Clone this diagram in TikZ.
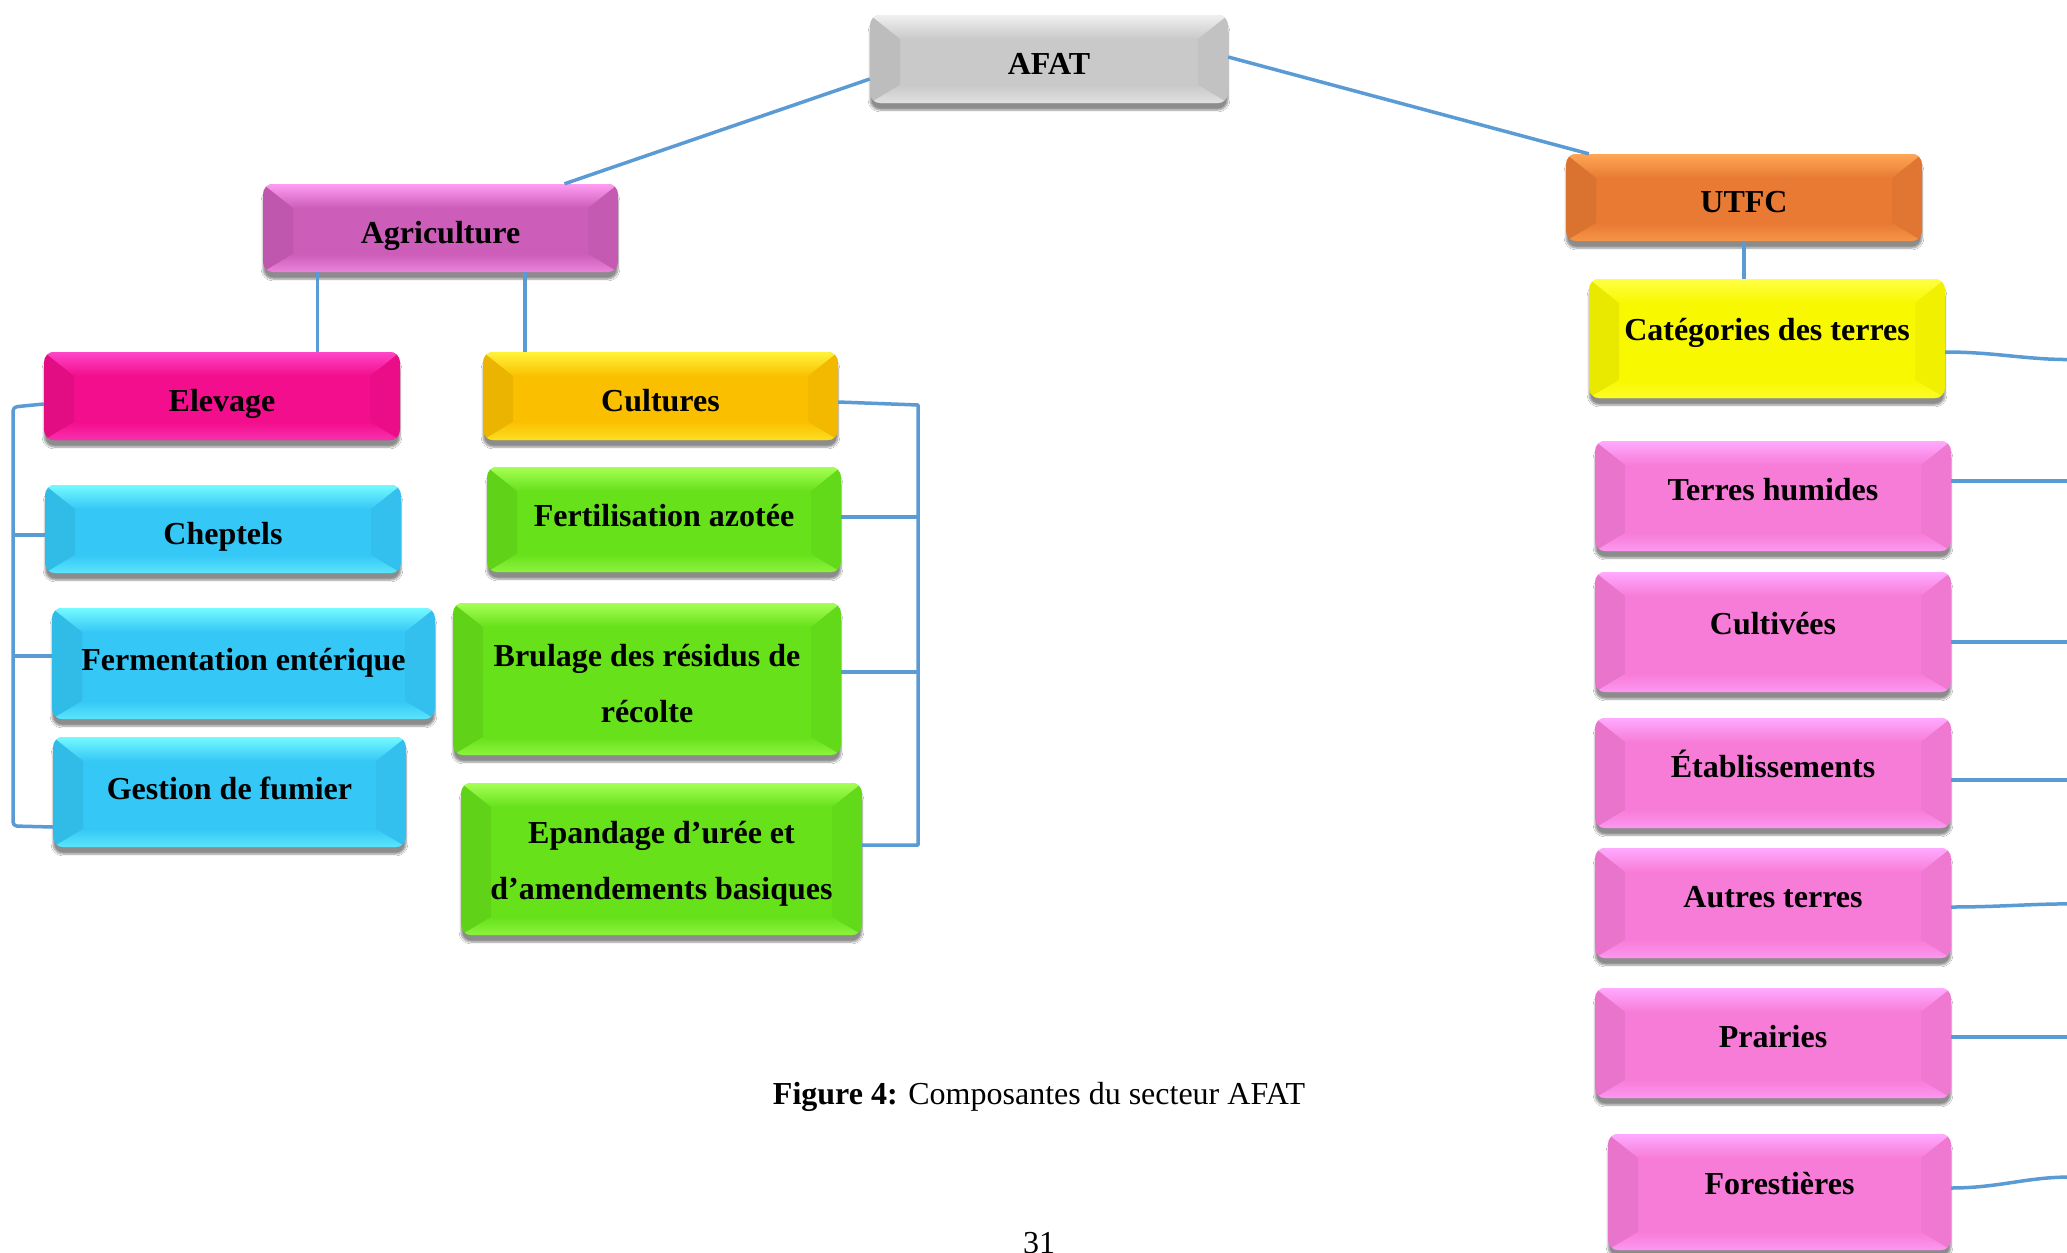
\documentclass[tikz,border=0pt]{standalone}
\usepackage{fontspec}
\setmainfont{Liberation Serif}
\usetikzlibrary{calc,shadows.blur}
\definecolor{cGray}{HTML}{C9C9C9}\definecolor{cGrayT}{HTML}{F0F0F0}
\definecolor{cOrch}{HTML}{CC5DB9}\definecolor{cOrchT}{HTML}{FF9CF2}
\definecolor{cMag}{HTML}{F20E8C}\definecolor{cMagT}{HTML}{FF45C8}
\definecolor{cGold}{HTML}{FAC000}\definecolor{cGoldT}{HTML}{FFF33A}
\definecolor{cCyan}{HTML}{35C7F6}\definecolor{cCyanT}{HTML}{74FAFF}
\definecolor{cGreen}{HTML}{66E11A}\definecolor{cGreenT}{HTML}{A6FF55}
\definecolor{cOrange}{HTML}{E87A33}\definecolor{cOrangeT}{HTML}{FFA655}
\definecolor{cYel}{HTML}{F8F800}\definecolor{cYelT}{HTML}{FFFF45}
\definecolor{cPink}{HTML}{F77CD8}\definecolor{cPinkT}{HTML}{FFAAFF}
\definecolor{cLine}{HTML}{5B9BD5}
\tikzset{
  bx/.style 2 args={
    rounded corners=10pt, fill=#1, draw=none, inner sep=0pt, align=center,
    font=\fontsize{32}{56}\selectfont\bfseries,
    blur shadow={shadow xshift=0pt, shadow yshift=-7pt, shadow blur steps=6, shadow opacity=45},
    path picture={
      \begin{scope}[sharp corners]
      \coordinate (NW) at (path picture bounding box.north west);
      \coordinate (NE) at (path picture bounding box.north east);
      \coordinate (SW) at (path picture bounding box.south west);
      \coordinate (SE) at (path picture bounding box.south east);
      \shade[top color=#2, bottom color=#1] (NW) -- (NE) -- ([xshift=-30pt,yshift=-24pt]NE) -- ([xshift=30pt,yshift=-24pt]NW) -- cycle;
      \fill[black, opacity=.06] (NW) -- ([xshift=30pt,yshift=-24pt]NW) -- ([xshift=30pt,yshift=18pt]SW) -- (SW) -- cycle;
      \fill[black, opacity=.03] (NE) -- ([xshift=-30pt,yshift=-24pt]NE) -- ([xshift=-30pt,yshift=18pt]SE) -- (SE) -- cycle;
      \shade[top color=#1, bottom color=#2!60!#1] ([xshift=30pt,yshift=18pt]SW) -- ([xshift=-30pt,yshift=18pt]SE) -- (SE) -- (SW) -- cycle;
      \end{scope}
    }
  },
  tn/.style={text height=30pt, text depth=0pt},
  tm/.style={text height=22pt, text depth=8pt},
  tp/.style={text height=22pt, text depth=14pt},
  tu/.style={text height=22pt, text depth=18pt},
  conn/.style={draw=cLine, line width=3.5pt, line join=round},
}
\begin{document}
\begin{tikzpicture}[x=1pt,y=-1pt]
\useasboundingbox[fill=white] (0,0) rectangle (2067,1253);

% ---- nodes ----
\node[bx={cGray}{cGrayT}, tn, minimum width=358pt, minimum height=88pt] (afat) at (1049,59) {AFAT};
\node[bx={cOrch}{cOrchT}, tn, minimum width=355pt, minimum height=88pt] (agri) at (440.5,228) {Agriculture};
\node[bx={cMag}{cMagT}, tn, minimum width=356pt, minimum height=88pt] (elev) at (222,396) {Elevage};
\node[bx={cGold}{cGoldT}, tn, minimum width=355pt, minimum height=88pt] (cult) at (660.5,396) {Cultures};
\node[bx={cCyan}{cCyanT}, tn, minimum width=356pt, minimum height=88pt] (chep) at (223,529) {Cheptels};
\node[bx={cCyan}{cCyanT}, tm, minimum width=383pt, minimum height=111pt] (ferm) at (243.5,663.5) {Fermentation entérique};
\node[bx={cCyan}{cCyanT}, tm, minimum width=353pt, minimum height=110pt] (gest) at (229.5,792) {Gestion de fumier};
\node[bx={cGreen}{cGreenT}, tm, minimum width=354pt, minimum height=105pt] (fert) at (664,519.5) {Fertilisation azotée};
\node[bx={cGreen}{cGreenT}, minimum width=388pt, minimum height=152pt] (brul) at (647,679) {\rule{0pt}{32pt}Brulage des résidus de\\récolte};
\node[bx={cGreen}{cGreenT}, minimum width=401pt, minimum height=152pt] (epan) at (661.5,859) {\rule{0pt}{32pt}Epandage d’urée et\\d’amendements basiques};

\node[bx={cOrange}{cOrangeT}, tn, minimum width=356pt, minimum height=87pt] (utfc) at (1744,197.5) {UTFC};
\node[bx={cYel}{cYelT}, tu, minimum width=356pt, minimum height=119pt] (cat) at (1767,338.5) {Catégories des terres};
\node[bx={cPink}{cPinkT}, tp, minimum width=356pt, minimum height=110pt] (hum) at (1773,496) {Terres humides};
\node[bx={cPink}{cPinkT}, tu, minimum width=356pt, minimum height=120pt] (cuv) at (1773,632) {Cultivées};
\node[bx={cPink}{cPinkT}, tp, minimum width=356pt, minimum height=110pt] (eta) at (1773,773) {Établissements};
\node[bx={cPink}{cPinkT}, tp, minimum width=356pt, minimum height=110pt] (aut) at (1773,903) {Autres terres};
\node[bx={cPink}{cPinkT}, tp, minimum width=356pt, minimum height=110pt] (pra) at (1773,1043) {Prairies};
\node[bx={cPink}{cPinkT}, tu, minimum width=343pt, minimum height=116pt] (for) at (1779.5,1192) {Forestières};

\node[anchor=base, font=\fontsize{32}{38}\selectfont] (cap) at (1039,1104) {\textbf{Figure 4:} Composantes du secteur AFAT};
\node[anchor=base, font=\fontsize{32}{38}\selectfont] (pg) at (1039,1253) {31};

% ---- connectors ----
\draw[conn] ([yshift=-20pt]afat.west) -- ([xshift=124pt]agri.north);
\draw[conn] ([yshift=2pt]afat.east) -- ([xshift=23pt]utfc.north west);
\draw[conn] ([xshift=-123pt]agri.south) -- ([xshift=-123pt]agri.south |- elev.north);
\draw[conn] ([xshift=84.5pt]agri.south) -- ([xshift=84.5pt]agri.south |- cult.north);
\draw[conn] (utfc.south) -- (utfc.south |- cat.north);

% left bracket
\coordinate (lbt) at (13,407);
\coordinate (lbb) at (13,826);
\coordinate (le) at ([yshift=-8pt]elev.west);
\coordinate (lc) at ([yshift=-6pt]chep.west);
\coordinate (lf) at ([yshift=7.5pt]ferm.west);
\coordinate (lg) at ([yshift=-35pt]gest.west);
\draw[conn, rounded corners=4pt] (le) -- (lbt) -- (lbb) -- (lg);
\draw[conn] (lc) -- (lc -| lbt);
\draw[conn] (lf) -- (lf -| lbt);

% right bracket
\coordinate (rbt) at (918,405);
\coordinate (rbb) at (918,845);
\coordinate (rc) at ([yshift=-6pt]cult.east);
\coordinate (rf) at ([yshift=2.5pt]fert.east);
\coordinate (rr) at ([yshift=7pt]brul.east);
\coordinate (re) at ([yshift=14pt]epan.east);
\draw[conn] (rc) -- (rbt) -- (rbb) -- (re);
\draw[conn] (rf) -- (rf -| rbt);
\draw[conn] (rr) -- (rr -| rbt);

% right side connectors running off the page
\coordinate (ocat) at (2090,359);
\coordinate (ofor) at (2090,1178);
\coordinate (ka) at ([yshift=-13.5pt]cat.east);
\coordinate (kb) at ([yshift=15pt]hum.east);
\coordinate (kc) at ([yshift=-10pt]cuv.east);
\coordinate (kd) at ([yshift=-7pt]eta.east);
\coordinate (ke) at ([yshift=-4pt]aut.east);
\coordinate (kf) at ([yshift=6pt]pra.east);
\coordinate (kg) at ([yshift=4pt]for.east);
\draw[conn] (ka) to[out=0,in=183] (ocat);
\draw[conn] (kb) -- (kb -| ocat);
\draw[conn] (kc) -- (kc -| ocat);
\draw[conn] (kd) -- (kd -| ocat);
\draw[conn] (ke) to[out=0,in=179] ([yshift=3pt]ke -| ocat);
\draw[conn] (kf) -- (kf -| ocat);
\draw[conn] (kg) to[out=0,in=175] (ofor);
\end{tikzpicture}
\end{document}
